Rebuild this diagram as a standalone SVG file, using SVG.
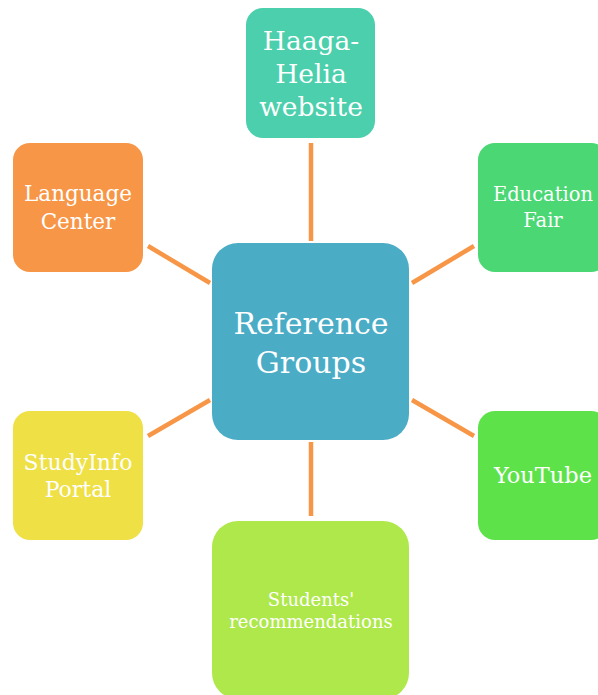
<svg xmlns="http://www.w3.org/2000/svg" width="598" height="695" viewBox="0 0 598 695">
  <style>
    .conn line { stroke: #F79646; stroke-width: 4.5; }
    .node rect { stroke: none; }
    .node text { fill: #FFFFFF; font-family: "DejaVu Serif", "Liberation Serif", serif; text-anchor: middle; }
  </style>
  <rect width="598" height="695" fill="#FFFFFF"/>

  <g id="connectors" class="conn">
    <line x1="311" y1="143" x2="311" y2="241"/>
    <line x1="148" y1="246" x2="210" y2="283"/>
    <line x1="412" y1="283" x2="474" y2="246"/>
    <line x1="148" y1="436" x2="210" y2="400"/>
    <line x1="412" y1="400" x2="474" y2="436"/>
    <line x1="311" y1="442" x2="311" y2="516"/>
  </g>

  <g id="reference-groups" class="node">
    <rect x="212" y="243" width="197" height="197" rx="26" fill="#4BACC6"/>
    <text x="311" y="334" font-size="30">Reference</text>
    <text x="311" y="373" font-size="30">Groups</text>
  </g>

  <g id="haaga-helia-website" class="node">
    <rect x="246" y="8" width="129" height="130" rx="17" fill="#4BCFAC"/>
    <text x="311" y="50" font-size="26.5">Haaga-</text>
    <text x="311" y="83" font-size="26.5">Helia</text>
    <text x="311" y="116" font-size="26.5">website</text>
  </g>

  <g id="language-center" class="node">
    <rect x="13" y="143" width="130" height="129" rx="17" fill="#F79646"/>
    <text x="78" y="201" font-size="21.5">Language</text>
    <text x="78" y="229" font-size="21.5">Center</text>
  </g>

  <g id="education-fair" class="node">
    <rect x="478" y="143" width="130" height="129" rx="17" fill="#4AD774"/>
    <text x="543" y="201" font-size="19.5">Education</text>
    <text x="543" y="227" font-size="19.5">Fair</text>
  </g>

  <g id="studyinfo-portal" class="node">
    <rect x="13" y="411" width="130" height="129" rx="17" fill="#EFE045"/>
    <text x="78" y="470" font-size="22">StudyInfo</text>
    <text x="78" y="497" font-size="22">Portal</text>
  </g>

  <g id="youtube" class="node">
    <rect x="478" y="411" width="130" height="129" rx="17" fill="#5EE24A"/>
    <text x="543" y="483" font-size="22.5">YouTube</text>
  </g>

  <g id="students-recommendations" class="node">
    <rect x="212" y="521" width="197" height="178" rx="26" fill="#AEE84A"/>
    <text x="311" y="606" font-size="18">Students'</text>
    <text x="311" y="628" font-size="18">recommendations</text>
  </g>
</svg>
